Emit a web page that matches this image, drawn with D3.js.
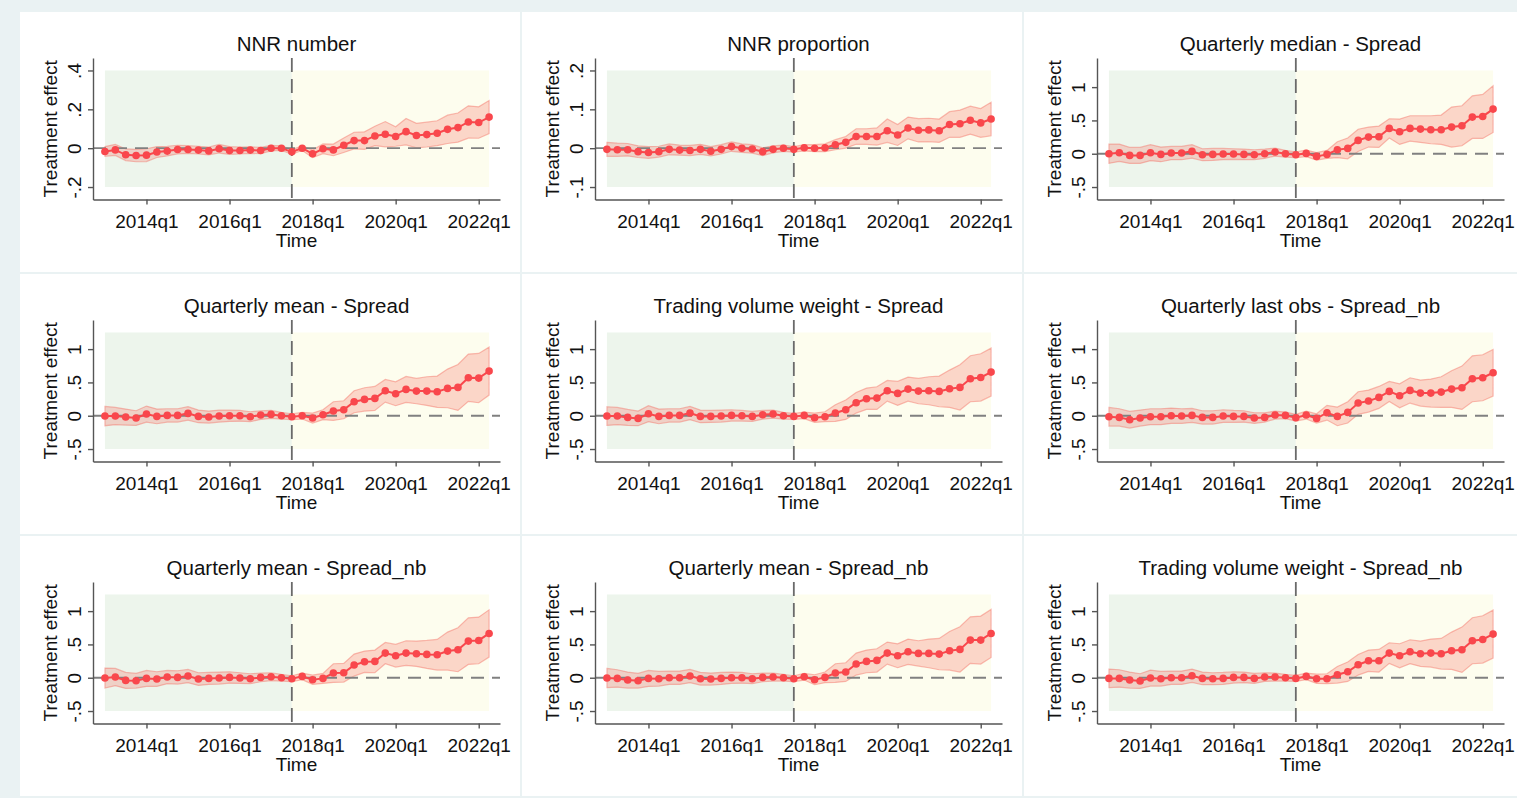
<!DOCTYPE html>
<html>
<head>
<meta charset="utf-8">
<script src="https://cdn.jsdelivr.net/npm/d3@7"></script>
<style>
  body { margin: 0; background: #eaf2f3; }
  svg { display: block; }
</style>
</head>
<body>
<svg id="chart" width="1517" height="798"></svg>
<script>
// quarters on the x axis, 2013q1 .. 2022q2
var quarters = ["2013q1","2013q2","2013q3","2013q4","2014q1","2014q2","2014q3","2014q4",
  "2015q1","2015q2","2015q3","2015q4","2016q1","2016q2","2016q3","2016q4",
  "2017q1","2017q2","2017q3","2017q4","2018q1","2018q2","2018q3","2018q4",
  "2019q1","2019q2","2019q3","2019q4","2020q1","2020q2","2020q3","2020q4",
  "2021q1","2021q2","2021q3","2021q4","2022q1","2022q2"];
var xTickLabels = ["2014q1", "2016q1", "2018q1", "2020q1", "2022q1"];
var treatQuarter = "2017q3";

var titles = ["NNR number", "NNR proportion", "Quarterly median - Spread",
  "Quarterly mean - Spread", "Trading volume weight - Spread", "Quarterly last obs - Spread_nb",
  "Quarterly mean - Spread_nb", "Quarterly mean - Spread_nb", "Trading volume weight - Spread_nb"];

var yTicksNum = [-0.2, 0, 0.2, 0.4];
var yTicksProp = [-0.1, 0, 0.1, 0.2];
var yTicksSpread = [-0.5, 0, 0.5, 1];
var shadeNum = [-0.2, 0.4];
var shadeProp = [-0.1, 0.2];
var shadeSpread = [-0.5, 1.25];

// point estimates
var est1 = [-0.017,-0.009,-0.034,-0.038,-0.036,-0.02,-0.015,-0.007,-0.007,-0.01,-0.014,-0.003,-0.012,-0.012,-0.01,-0.012,0,0,
  -0.019,0,-0.029,-0.003,-0.009,0.015,0.039,0.039,0.063,0.072,0.06,0.085,0.065,0.07,0.077,0.097,0.106,0.135,0.132,0.16];
var est2 = [-0.003,-0.004,-0.004,-0.009,-0.011,-0.009,-0.003,-0.005,-0.006,-0.003,-0.008,-0.003,0.004,0,-0.002,-0.009,-0.003,0,
  -0.003,0.001,0,0.001,0.009,0.015,0.03,0.03,0.03,0.045,0.034,0.052,0.046,0.047,0.045,0.061,0.063,0.072,0.065,0.075];
var est3 = [0,0.015,-0.025,-0.025,0.015,-0.01,0.01,0.01,0.035,-0.015,-0.01,-0.005,-0.005,-0.01,-0.015,0,0.025,0,
  -0.015,0.005,-0.04,-0.01,0.06,0.08,0.2,0.25,0.255,0.38,0.33,0.38,0.37,0.36,0.36,0.4,0.42,0.55,0.56,0.67];
var est4 = [-0.005,-0.005,-0.02,-0.035,0.025,-0.01,0.005,0.005,0.035,-0.01,-0.02,-0.005,0,0,-0.015,0.01,0.02,0,
  -0.015,0,-0.035,0.015,0.07,0.09,0.21,0.245,0.26,0.375,0.33,0.395,0.37,0.37,0.36,0.41,0.425,0.57,0.565,0.67];
var est5 = [-0.005,-0.005,-0.025,-0.04,0.03,-0.01,0.005,0.005,0.04,-0.01,-0.01,-0.005,0.005,0,-0.01,0.015,0.025,0,
  -0.01,0.005,-0.03,-0.015,0.04,0.09,0.195,0.255,0.265,0.375,0.335,0.4,0.37,0.375,0.365,0.405,0.425,0.555,0.575,0.655];
var est6 = [-0.015,-0.025,-0.06,-0.035,-0.015,-0.015,0,-0.005,0.005,-0.025,-0.025,-0.005,-0.01,-0.01,-0.035,-0.025,0.01,0.005,
  -0.03,0.01,-0.04,0.045,-0.01,0.05,0.19,0.22,0.275,0.365,0.3,0.38,0.34,0.34,0.355,0.4,0.42,0.555,0.57,0.645];
var est7 = [-0.005,0.01,-0.04,-0.045,-0.01,-0.02,0.01,0.005,0.025,-0.02,-0.01,-0.005,0.005,-0.005,-0.015,0.005,0.015,0,
  -0.015,0.02,-0.03,-0.01,0.07,0.075,0.19,0.24,0.245,0.37,0.33,0.37,0.36,0.35,0.345,0.4,0.42,0.55,0.56,0.665];
var est8 = [-0.005,-0.01,-0.035,-0.045,-0.01,-0.015,0,0,0.025,-0.015,-0.02,-0.01,0,0,-0.015,0.005,0.01,0,
  -0.015,0.015,-0.03,0.005,0.07,0.085,0.205,0.245,0.26,0.37,0.33,0.39,0.365,0.365,0.355,0.405,0.425,0.565,0.565,0.665];
var est9 = [-0.01,-0.01,-0.035,-0.05,-0.005,-0.015,0,0,0.03,-0.01,-0.015,-0.01,0.005,0.005,-0.01,0.01,0.01,0,
  -0.01,0.02,-0.015,-0.015,0.045,0.09,0.195,0.255,0.255,0.37,0.33,0.39,0.36,0.37,0.36,0.405,0.42,0.555,0.575,0.655];

// half-widths of the confidence bands
var ci1 = [0.025,0.028,0.03,0.032,0.033,0.028,0.025,0.022,0.02,0.02,0.02,0.022,0.02,0.018,0.017,0.016,0.014,0.012,0.012,0.012,
  0.02,0.025,0.03,0.037,0.043,0.045,0.05,0.065,0.05,0.068,0.063,0.064,0.064,0.073,0.075,0.083,0.081,0.085];
var ci2 = [0.018,0.017,0.016,0.015,0.015,0.014,0.014,0.013,0.013,0.013,0.012,0.012,0.012,0.011,0.011,0.01,0.009,0.008,0.007,0.008,
  0.009,0.01,0.013,0.015,0.02,0.02,0.022,0.03,0.027,0.028,0.03,0.03,0.03,0.033,0.035,0.036,0.037,0.043];
var ci3 = [0.145,0.13,0.12,0.12,0.12,0.11,0.1,0.1,0.1,0.09,0.09,0.085,0.08,0.08,0.075,0.07,0.06,0.05,0.045,0.05,
  0.057,0.06,0.12,0.157,0.167,0.15,0.16,0.145,0.19,0.19,0.2,0.21,0.22,0.3,0.3,0.32,0.33,0.35];
var ci4 = [0.145,0.13,0.12,0.11,0.12,0.11,0.1,0.1,0.1,0.095,0.09,0.09,0.085,0.08,0.075,0.065,0.06,0.05,0.045,0.05,
  0.075,0.075,0.14,0.135,0.165,0.175,0.18,0.17,0.18,0.195,0.19,0.215,0.235,0.29,0.345,0.355,0.37,0.36];
var ci5 = [0.14,0.13,0.12,0.11,0.12,0.11,0.1,0.1,0.1,0.095,0.09,0.09,0.085,0.08,0.075,0.065,0.06,0.05,0.045,0.05,
  0.07,0.075,0.125,0.145,0.155,0.16,0.17,0.155,0.18,0.18,0.19,0.21,0.23,0.28,0.34,0.345,0.355,0.36];
var ci6 = [0.14,0.13,0.125,0.12,0.12,0.12,0.115,0.11,0.105,0.1,0.1,0.095,0.09,0.085,0.08,0.07,0.06,0.05,0.05,0.06,
  0.07,0.11,0.14,0.16,0.17,0.165,0.165,0.15,0.18,0.19,0.195,0.21,0.23,0.275,0.325,0.345,0.345,0.35];
var ci7 = [0.15,0.13,0.12,0.11,0.12,0.11,0.1,0.1,0.1,0.095,0.09,0.09,0.085,0.08,0.075,0.065,0.06,0.05,0.045,0.05,
  0.07,0.075,0.14,0.14,0.165,0.16,0.17,0.16,0.17,0.185,0.19,0.21,0.23,0.285,0.33,0.35,0.35,0.355];
var ci8 = [0.145,0.13,0.12,0.11,0.12,0.11,0.1,0.1,0.1,0.095,0.09,0.09,0.085,0.08,0.075,0.065,0.06,0.05,0.045,0.05,
  0.075,0.08,0.14,0.14,0.165,0.17,0.175,0.165,0.18,0.19,0.19,0.215,0.235,0.29,0.34,0.35,0.36,0.36];
var ci9 = [0.14,0.13,0.12,0.11,0.12,0.11,0.1,0.1,0.1,0.095,0.09,0.09,0.085,0.08,0.075,0.065,0.06,0.05,0.045,0.05,
  0.07,0.075,0.125,0.145,0.155,0.16,0.17,0.155,0.18,0.18,0.19,0.21,0.23,0.28,0.34,0.345,0.355,0.36];

var panels = [
  { title: titles[0], est: est1, ci: ci1, ticks: yTicksNum, shade: shadeNum },
  { title: titles[1], est: est2, ci: ci2, ticks: yTicksProp, shade: shadeProp },
  { title: titles[2], est: est3, ci: ci3, ticks: yTicksSpread, shade: shadeSpread },
  { title: titles[3], est: est4, ci: ci4, ticks: yTicksSpread, shade: shadeSpread },
  { title: titles[4], est: est5, ci: ci5, ticks: yTicksSpread, shade: shadeSpread },
  { title: titles[5], est: est6, ci: ci6, ticks: yTicksSpread, shade: shadeSpread },
  { title: titles[6], est: est7, ci: ci7, ticks: yTicksSpread, shade: shadeSpread },
  { title: titles[7], est: est8, ci: ci8, ticks: yTicksSpread, shade: shadeSpread },
  { title: titles[8], est: est9, ci: ci9, ticks: yTicksSpread, shade: shadeSpread }
];

var FONT = '"Liberation Sans", Arial, Helvetica, sans-serif';
var colX = [20, 522, 1024];
var rowY = [12, 274, 536];
var panelW = 500, panelH = 260;
var plot = { left: 73, right: 480, top: 46, bottom: 187.5 };

var svg = d3.select('#chart');
svg.append('rect').attr('width', 1517).attr('height', 798).attr('fill', '#eaf2f3');

var x = d3.scaleLinear().domain([-1.15, 38.05]).range([plot.left, plot.right]);
var treatIdx = quarters.indexOf(treatQuarter);
var lastIdx = quarters.length - 1;

// Stata style tick labels: .5 instead of 0.5
var stataFmt = function(d) {
  return String(+d.toFixed(3)).replace(/^(-?)0\./, '$1.');
};

var drawPanel = function(g, p) {
  var pad = (p.shade[1] - p.shade[0]) * 0.107;
  var y = d3.scaleLinear()
    .domain([p.shade[0] - pad, p.shade[1] + pad])
    .range([plot.bottom, plot.top]);

  g.append('rect')
    .attr('width', panelW).attr('height', panelH)
    .attr('fill', '#ffffff');

  // pre / post shading
  g.append('rect')
    .attr('x', x(0)).attr('width', x(treatIdx) - x(0))
    .attr('y', y(p.shade[1])).attr('height', y(p.shade[0]) - y(p.shade[1]))
    .attr('fill', '#edf5ec');
  g.append('rect')
    .attr('x', x(treatIdx)).attr('width', x(lastIdx) - x(treatIdx))
    .attr('y', y(p.shade[1])).attr('height', y(p.shade[0]) - y(p.shade[1]))
    .attr('fill', '#fdfdee');

  // confidence band
  var band = d3.area()
    .x(function(d, i) { return x(i); })
    .y0(function(d, i) { return y(d - p.ci[i]); })
    .y1(function(d, i) { return y(d + p.ci[i]); });
  g.append('path')
    .datum(p.est)
    .attr('d', band)
    .attr('fill', 'rgba(248,90,80,0.24)')
    .attr('stroke', 'rgba(245,110,100,0.45)')
    .attr('stroke-width', 1.2);

  // reference lines
  g.append('line')
    .attr('x1', plot.left).attr('x2', plot.right)
    .attr('y1', y(0)).attr('y2', y(0))
    .attr('stroke', '#808080').attr('stroke-width', 1.8)
    .attr('stroke-dasharray', '13,8');
  g.append('line')
    .attr('x1', x(treatIdx)).attr('x2', x(treatIdx))
    .attr('y1', plot.top).attr('y2', plot.bottom)
    .attr('stroke', '#6a6a6a').attr('stroke-width', 1.8)
    .attr('stroke-dasharray', '14,7');

  // estimates
  var line = d3.line()
    .x(function(d, i) { return x(i); })
    .y(function(d) { return y(d); });
  g.append('path')
    .datum(p.est)
    .attr('d', line)
    .attr('fill', 'none')
    .attr('stroke', '#f9474c')
    .attr('stroke-width', 2);
  g.selectAll('circle.pt')
    .data(p.est)
    .enter().append('circle')
    .attr('class', 'pt')
    .attr('cx', function(d, i) { return x(i); })
    .attr('cy', function(d) { return y(d); })
    .attr('r', 3.8)
    .attr('fill', '#f9474c');

  // axes
  var xAxis = d3.axisBottom(x)
    .tickValues(xTickLabels.map(function(q) { return quarters.indexOf(q); }))
    .tickFormat(function(i) { return quarters[i]; })
    .tickSize(5).tickSizeOuter(0);
  var gx = g.append('g')
    .attr('transform', 'translate(0,' + plot.bottom + ')')
    .attr('color', '#555555')
    .call(xAxis);
  gx.select('.domain').attr('stroke-width', 1.4);
  gx.selectAll('.tick line').attr('stroke-width', 1.4);
  gx.selectAll('text')
    .attr('y', 28).attr('dy', 0)
    .attr('fill', '#111')
    .style('font-family', FONT).style('font-size', '19px');

  var yAxis = d3.axisLeft(y)
    .tickValues(p.ticks)
    .tickFormat(stataFmt)
    .tickSize(5).tickSizeOuter(0);
  var gy = g.append('g')
    .attr('transform', 'translate(' + plot.left + ',0)')
    .attr('color', '#555555')
    .call(yAxis);
  gy.select('.domain').attr('stroke-width', 1.4);
  gy.selectAll('.tick line').attr('stroke-width', 1.4);
  gy.selectAll('text')
    .attr('transform', 'rotate(-90)')
    .attr('x', 0).attr('y', -12.5).attr('dy', 0)
    .attr('text-anchor', 'middle')
    .attr('fill', '#111')
    .style('font-family', FONT).style('font-size', '19px');

  // titles
  var midX = (plot.left + plot.right) / 2;
  g.append('text')
    .attr('x', midX).attr('y', 39)
    .attr('text-anchor', 'middle')
    .style('font-family', FONT).style('font-size', '20.5px')
    .attr('fill', '#111')
    .text(p.title);
  g.append('text')
    .attr('x', midX).attr('y', 235)
    .attr('text-anchor', 'middle')
    .style('font-family', FONT).style('font-size', '19px')
    .attr('fill', '#111')
    .text('Time');
  g.append('text')
    .attr('transform', 'translate(37,' + ((plot.top + plot.bottom) / 2) + ') rotate(-90)')
    .attr('text-anchor', 'middle')
    .style('font-family', FONT).style('font-size', '19px')
    .attr('fill', '#111')
    .text('Treatment effect');
};

panels.forEach(function(p, k) {
  var g = svg.append('g')
    .attr('transform', 'translate(' + colX[k % 3] + ',' + rowY[Math.floor(k / 3)] + ')');
  drawPanel(g, p);
});
</script>
</body>
</html>
